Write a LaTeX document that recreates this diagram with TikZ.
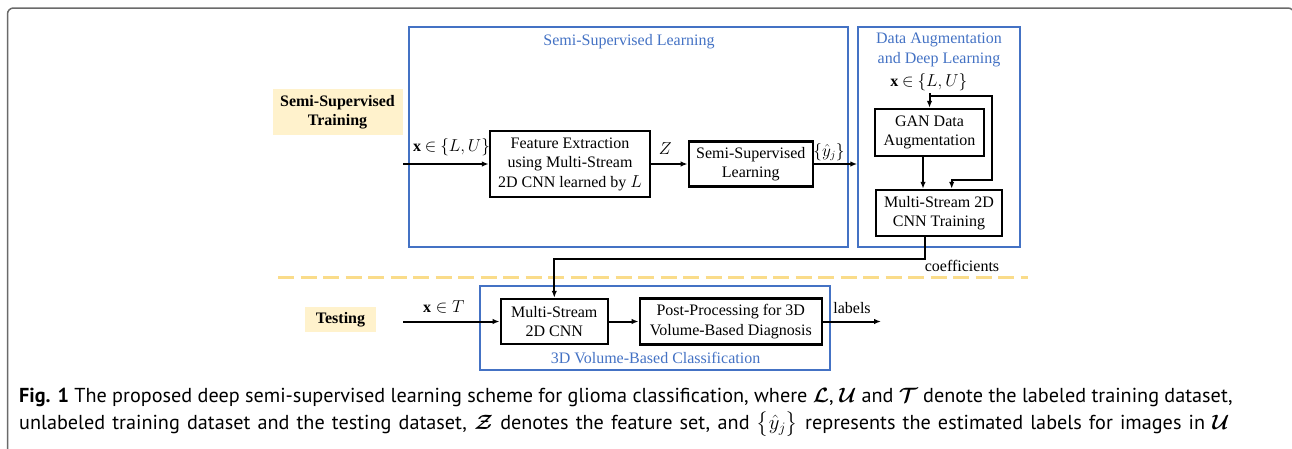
\documentclass[tikz,border=0pt]{standalone}
\usepackage{amsmath,bm}
\usepackage{fontspec}
\setmainfont{Liberation Serif}
\newfontfamily\capfont{PT Sans}
\usetikzlibrary{arrows.meta}
\definecolor{frameblue}{HTML}{4472C4}
\definecolor{lightgold}{HTML}{FFF2CC}
\definecolor{dashgold}{HTML}{FADC8A}
\definecolor{framegray}{HTML}{6A6A6A}
\begin{document}
\begin{tikzpicture}[x=1pt,y=-1pt,
  diag/.style={font=\fontsize{16}{19.5}\selectfont},
  blk/.style={diag, draw=black, line width=2.5pt, inner sep=0pt, align=center},
  bluebox/.style={draw=frameblue, line width=1.5pt, inner sep=0pt},
  bluetxt/.style={diag, text=frameblue, align=center, inner sep=0pt},
  tag/.style={fill=lightgold, inner sep=0pt, align=center, font=\fontsize{16}{19.5}\selectfont\bfseries},
  lbl/.style={diag, inner sep=0pt},
  arr/.style={line width=2pt, -{Latex[length=7pt,width=5.5pt]}},
  capline/.style={anchor=base west, inner sep=0pt, font=\capfont\fontsize{20.2}{24}\selectfont}]
\useasboundingbox (0,0) rectangle (1292,448);
% outer frame
\draw[framegray, line width=1.5pt, rounded corners=6pt] (7.5,470) -- (7.5,8) -- (1294,8) -- (1294,470);
% blue frames
\node[bluebox, minimum width=439pt, minimum height=220pt] (b1) at (628.5,137) {};
\node[bluebox, minimum width=162pt, minimum height=220pt] (b2) at (939,137) {};
\node[bluebox, minimum width=350pt, minimum height=84pt] (b3) at (655,328) {};
\node[bluetxt] (t1) at (629,42) {Semi-Supervised Learning};
\node[bluetxt] (t2) at (939,50) {Data Augmentation\\and Deep Learning};
\node[bluetxt] (t3) at (655.5,357.5) {3D Volume-Based Classification};
% tags
\node[tag, minimum width=130pt, minimum height=46pt] (sst) at (337.5,112) {Semi-Supervised\\Training};
\node[tag, minimum width=71pt, minimum height=25pt] (tst) at (340.5,319.7) {Testing};
% dashed separator
\draw[dashgold, line width=3pt, dash pattern=on 16pt off 6.5pt] (278,277) -- (1028,277);
% boxes
\node[blk, minimum width=160pt, minimum height=66pt] (feat) at (570,164) {Feature Extraction\\using Multi-Stream\\2D CNN learned by $L$};
\node[blk, minimum width=124pt, minimum height=45pt] (ssl) at (750.8,164) {Semi-Supervised\\Learning};
\node[blk, minimum width=109pt, minimum height=47pt] (gan) at (929.5,132.5) {GAN Data\\Augmentation};
\node[blk, minimum width=126pt, minimum height=46pt] (mst) at (939,213) {Multi-Stream 2D\\CNN Training};
\node[blk, minimum width=107pt, minimum height=45pt] (mscnn) at (554.3,321.5) {Multi-Stream\\2D CNN};
\node[blk, minimum width=182pt, minimum height=46pt] (post) at (730.8,321.5) {Post-Processing for 3D\\Volume-Based Diagnosis};
% labels
\node[lbl] (x1) at (451.5,146.7) {$\mathbf{x}\mathbin{\in}\{L,U\}$};
\node[lbl] (z) at (665.3,148.3) {$Z$};
\node[lbl] (yj) at (829,152) {$\{\hat{y}_j\}$};
\node[lbl] (x2) at (928.8,81.7) {$\mathbf{x}\mathbin{\in}\{L,U\}$};
\node[lbl] (coef) at (962,266) {coefficients};
\node[lbl] (x3) at (443.7,306.7) {$\mathbf{x}\in T$};
\node[lbl] (lab) at (852,307.7) {labels};
% coordinates
\coordinate (in1) at (403,164);
\coordinate (in2) at (403,321.5);
\coordinate (out) at (881,321.5);
\coordinate (gx) at (923,0);
\coordinate (cx) at (924.5,0);
\coordinate (bx) at (951.7,0);
% connectors
\draw[arr] (in1) -- (feat.west);
\draw[arr] (feat.east) -- (ssl.west);
\draw[arr] (ssl.east) -- (ssl.east -| b2.west);
\draw[arr] (gan.north |- 0,93) -- (gan.north);
\draw[arr] (gan.north |- 0,96) -- (992,96) -- (992,180) -- (bx |- 0,180) -- (bx |- mst.north);
\draw[arr] (gx |- gan.south) -- (gx |- mst.north);
\draw[arr] (cx |- mst.south) -- (cx |- 0,259) -- (mscnn.north |- 0,259) -- (mscnn.north);
\draw[arr] (in2) -- (mscnn.west);
\draw[arr] (mscnn.east) -- (post.west);
\draw[arr] (post.east) -- (out);
% caption
\node[capline] (cap1) at (19,402) {\textbf{Fig. 1} The proposed deep semi-supervised learning scheme for glioma classification, where $\bm{\mathcal{L}}$,\;$\bm{\mathcal{U}}$ and $\bm{\mathcal{T}}$ denote the labeled training dataset,};
\node[capline] (cap2) at (19,429) {\makebox[1210pt][s]{unlabeled training dataset and the testing dataset, $\bm{\mathcal{Z}}$ denotes the feature set, and $\big\{\hat{y}_j\big\}$ represents the estimated labels for images in $\bm{\mathcal{U}}$}};
\end{tikzpicture}
\end{document}
